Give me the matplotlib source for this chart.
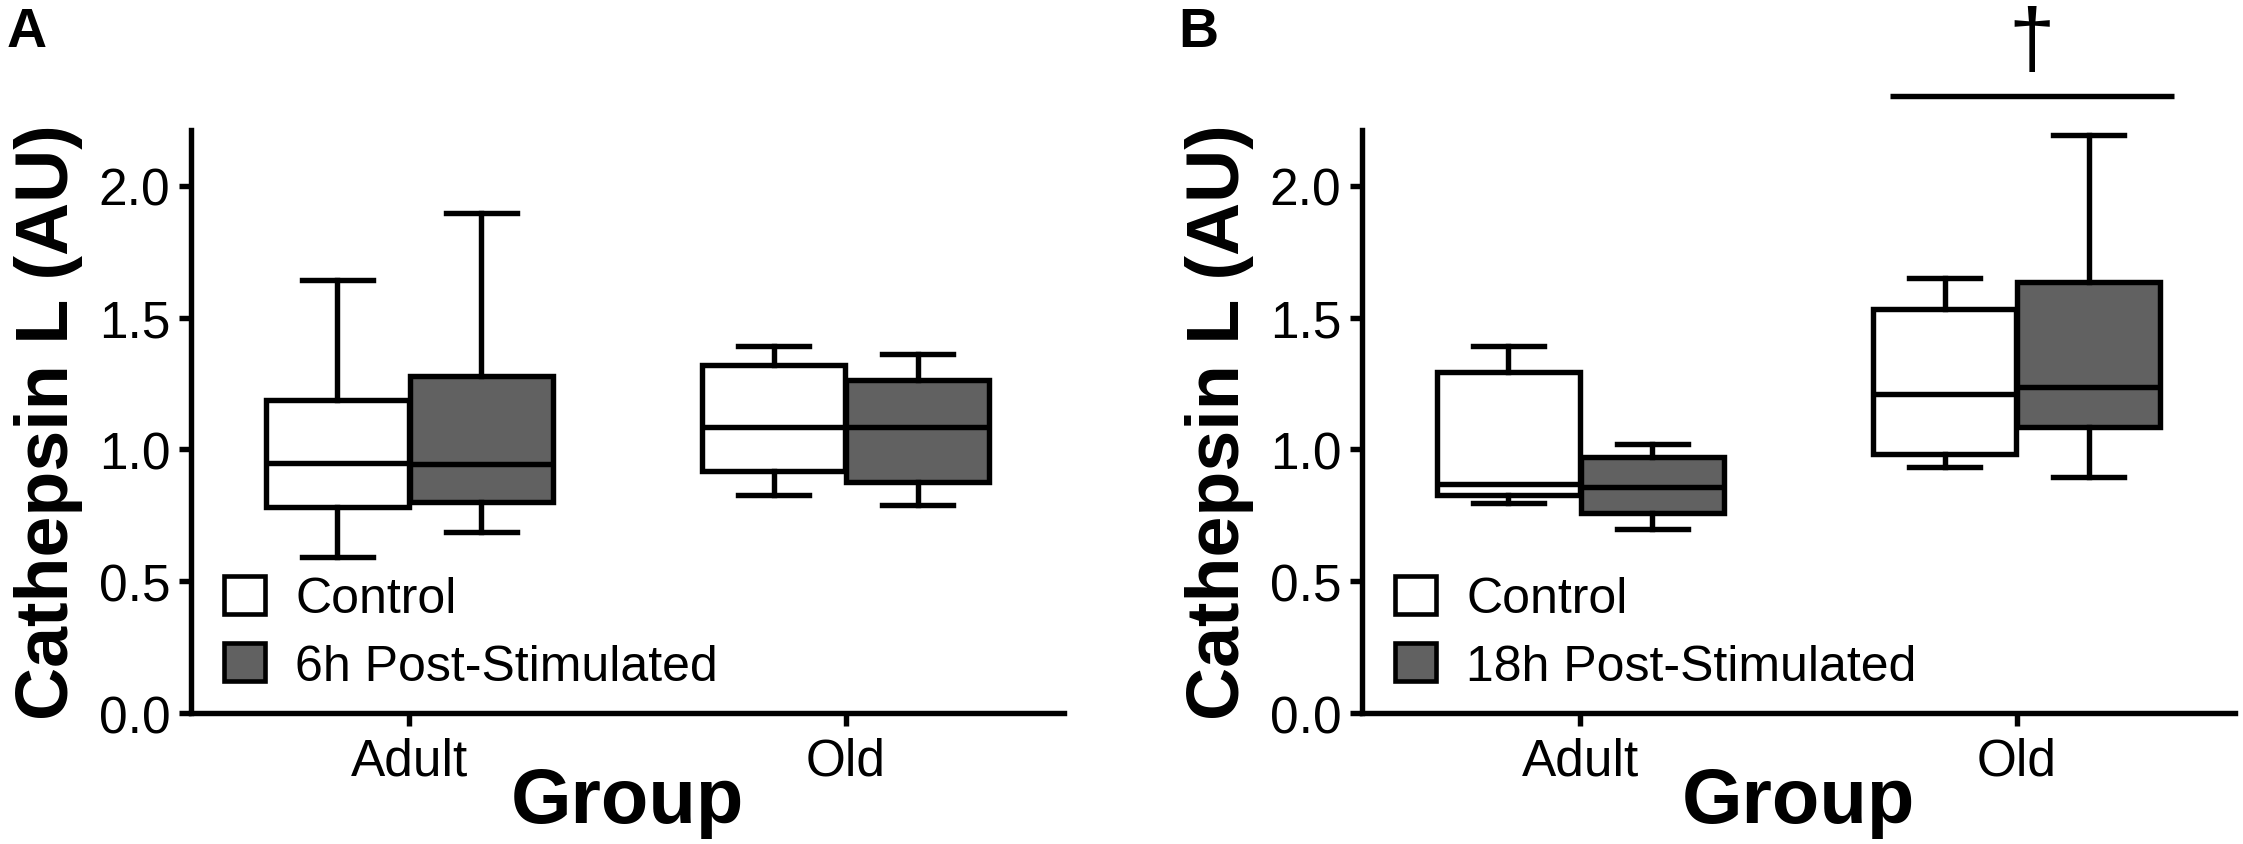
import matplotlib
matplotlib.use("Agg")
import matplotlib.pyplot as plt
from matplotlib.patches import Patch

plt.rcParams['font.family'] = ['Liberation Sans', 'DejaVu Sans']

# ---- data ----
groups = ["Adult", "Old"]
series_a = ["Control", "6h Post-Stimulated"]
series_b = ["Control", "18h Post-Stimulated"]
panel_letters = ["A", "B"]
ylabel = "Cathepsin L (AU)"
xlabel = "Group"
yticks = [0.0, 0.5, 1.0, 1.5, 2.0]

# five-number summaries: [whislo, q1, median, q3, whishi] per group (Adult, Old)
a_control = [[0.593, 0.783, 0.947, 1.186, 1.643],
             [0.829, 0.920, 1.087, 1.319, 1.392]]
a_stim    = [[0.688, 0.802, 0.943, 1.278, 1.897],
             [0.791, 0.875, 1.084, 1.262, 1.361]]
b_control = [[0.798, 0.829, 0.867, 1.293, 1.392],
             [0.935, 0.981, 1.209, 1.532, 1.650]]
b_stim    = [[0.700, 0.757, 0.856, 0.970, 1.019],
             [0.894, 1.087, 1.236, 1.635, 2.194]]

# significance annotation in panel B (Old group)
sig_symbol = "\u2020"
sig_span = (0.71, 1.36)
sig_y = 2.34
sig_text_y = 2.455
sig_text_x = 1.034

# ---- style ----
fill_colors = ["white", "#616161"]
LW = 3.9
offset = 0.165
bwidth = 0.327
capw = 0.163

fig = plt.figure(figsize=(22.43, 8.45), dpi=100)
ax_a = fig.add_axes([191 / 2243, 1 - 714 / 845, 873 / 2243, 583 / 845])
ax_b = fig.add_axes([1362 / 2243, 1 - 714 / 845, 873 / 2243, 583 / 845])


def make_stats(vals, label):
    lo, q1, med, q3, hi = vals
    return dict(label=label, whislo=lo, q1=q1, med=med, q3=q3, whishi=hi, fliers=[])


def draw_panel(ax, ctrl, stim, names, letter):
    for k, (data, sign) in enumerate([(ctrl, -1), (stim, 1)]):
        stats = [make_stats(v, g) for v, g in zip(data, groups)]
        pos = [i + sign * offset for i in range(len(groups))]
        ax.bxp(stats, positions=pos, widths=bwidth, capwidths=capw,
               patch_artist=True, showfliers=False, manage_ticks=False,
               boxprops=dict(facecolor=fill_colors[k], edgecolor='black', linewidth=LW),
               medianprops=dict(color='black', linewidth=LW),
               whiskerprops=dict(color='black', linewidth=LW),
               capprops=dict(color='black', linewidth=LW))
    ax.set_xlim(-0.5, 1.5)
    ax.set_ylim(0, 2.212)
    ax.set_xticks(range(len(groups)))
    ax.set_xticklabels(groups)
    ax.set_yticks(yticks)
    ax.set_yticklabels([f"{t:.1f}" for t in yticks])
    for s in ['top', 'right']:
        ax.spines[s].set_visible(False)
    for s in ['left', 'bottom']:
        ax.spines[s].set_linewidth(LW)
    ax.tick_params(axis='both', direction='out', length=9, width=LW,
                   labelsize=37, colors='black')
    ax.tick_params(axis='y', pad=6)
    ax.tick_params(axis='x', pad=8)
    ax.set_xlabel(xlabel, fontsize=56, fontweight='bold')
    ax.xaxis.label.set_va('baseline')
    ax.xaxis.set_label_coords(0.5, -0.187)
    ax.set_ylabel(ylabel, fontsize=53, fontweight='bold')
    ax.yaxis.label.set_va('baseline')
    ax.yaxis.set_label_coords(-0.141, 0.5)
    handles = [Patch(facecolor=fill_colors[0], edgecolor='black', linewidth=LW * 0.85),
               Patch(facecolor=fill_colors[1], edgecolor='black', linewidth=LW * 0.85)]
    ax.legend(handles, names, loc='lower left', bbox_to_anchor=(0.038, 0.04),
              frameon=False, fontsize=36, handlelength=0.82, handleheight=0.78,
              handletextpad=0.6, labelspacing=0.42, borderpad=0, borderaxespad=0)
    ax.text(-184 / 873, 1 + (131 - 47) / 583, letter, transform=ax.transAxes,
            fontsize=40, fontweight='bold', ha='left', va='baseline')


draw_panel(ax_a, a_control, a_stim, series_a, panel_letters[0])
draw_panel(ax_b, b_control, b_stim, series_b, panel_letters[1])

ax_b.plot(sig_span, [sig_y, sig_y], color='black', linewidth=LW, clip_on=False,
          solid_capstyle='butt')
ax_b.text(sig_text_x, sig_text_y, sig_symbol, fontsize=60, ha='center', va='baseline',
          clip_on=False)

fig.savefig("out.png", dpi=100)
